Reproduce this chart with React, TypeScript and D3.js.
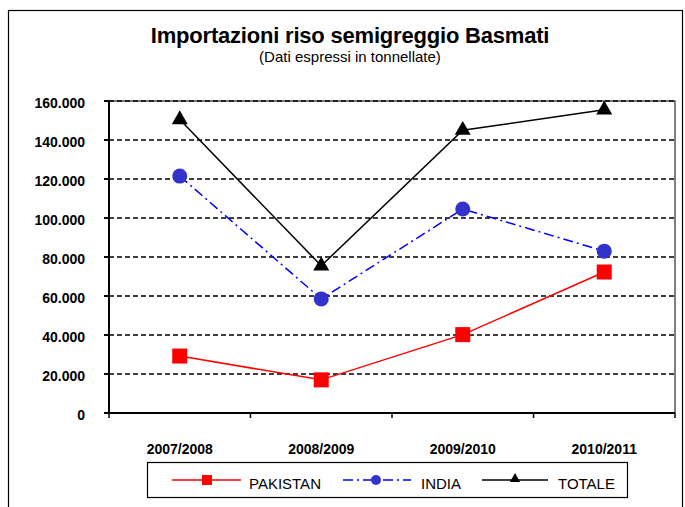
import React from "react";
import * as d3 from "d3";

const categories = ["2007/2008", "2008/2009", "2009/2010", "2010/2011"];
const pakistan = [29200, 17000, 40200, 72300];
const india = [121500, 58500, 104600, 83000];
const totale = [150500, 75500, 145000, 155500];
const yTicks = [0, 20000, 40000, 60000, 80000, 100000, 120000, 140000, 160000];

const W = 685;
const H = 507;
const plot = { left: 109, right: 675, top: 101, bottom: 413 };
const font = "Arial, 'Liberation Sans', Helvetica, sans-serif";

const x = d3
  .scaleBand<string>()
  .domain(categories)
  .range([plot.left, plot.right]);
const y = d3.scaleLinear().domain([0, 160000]).range([plot.bottom, plot.top]);

const fmt = (v: number) =>
  v === 0 ? "0" : d3.format(",.0f")(v).replace(/,/g, ".");

const cx = (c: string) => (x(c) || 0) + x.bandwidth() / 2;

const line = d3
  .line<[string, number]>()
  .x((d) => cx(d[0]))
  .y((d) => y(d[1]));

const zip = (vals: number[]) =>
  categories.map((c, i) => [c, vals[i]] as [string, number]);

const tri = d3.symbol(d3.symbolTriangle, 110)();

const Square = ({ px, py }: { px: number; py: number }) => (
  <rect x={px - 7.5} y={py - 7.5} width={15} height={15} fill="#ff0000" />
);
const Dot = ({ px, py }: { px: number; py: number }) => (
  <circle cx={px} cy={py} r={7.5} fill="#3333cc" />
);
const Tri = ({ px, py }: { px: number; py: number }) => (
  <path d={tri || ""} transform={`translate(${px},${py})`} fill="#000" />
);

export default function App() {
  return (
    <svg
      width={W}
      height={H}
      style={{ position: "absolute", left: 0, top: 0 }}
      fontFamily={font}
    >
      <rect x={0} y={0} width={W} height={H} fill="#fff" />
      <rect
        x={8.5}
        y={10.5}
        width={674}
        height={505}
        fill="none"
        stroke="#000"
        strokeWidth={1.2}
      />
      <text
        x={350}
        y={43}
        textAnchor="middle"
        fontSize={22}
        fontWeight="bold"
        letterSpacing={-0.2}
      >
        Importazioni riso semigreggio Basmati
      </text>
      <text x={350} y={62} textAnchor="middle" fontSize={15}>
        (Dati espressi in tonnellate)
      </text>

      {/* plot frame */}
      <rect
        x={plot.left}
        y={plot.top}
        width={plot.right - plot.left}
        height={plot.bottom - plot.top}
        fill="none"
        stroke="#000"
        strokeWidth={1}
      />
      {yTicks
        .filter((t) => t > 0)
        .map((t) => (
          <line
            key={t}
            x1={plot.left}
            x2={plot.right}
            y1={y(t)}
            y2={y(t)}
            stroke="#000"
            strokeWidth={1.5}
            strokeDasharray="5,3"
          />
        ))}
      {yTicks.map((t) => (
        <g key={"l" + t}>
          <line
            x1={plot.left - 5}
            x2={plot.left}
            y1={y(t)}
            y2={y(t)}
            stroke="#000"
            strokeWidth={2}
          />
          <text
            x={85}
            y={y(t) + 6.5}
            textAnchor="end"
            fontSize={14}
            fontWeight="bold"
          >
            {fmt(t)}
          </text>
        </g>
      ))}
      <line
        x1={plot.left}
        x2={plot.left}
        y1={plot.top}
        y2={plot.bottom}
        stroke="#000"
        strokeWidth={2}
      />
      <line
        x1={plot.left}
        x2={plot.right}
        y1={plot.bottom}
        y2={plot.bottom}
        stroke="#000"
        strokeWidth={2}
      />
      {categories.map((c) => (
        <line
          key={"t" + c}
          x1={x(c) || 0}
          x2={x(c) || 0}
          y1={plot.bottom}
          y2={plot.bottom + 5}
          stroke="#000"
          strokeWidth={1.5}
        />
      ))}
      <line
        x1={plot.right}
        x2={plot.right}
        y1={plot.bottom}
        y2={plot.bottom + 5}
        stroke="#000"
        strokeWidth={1.5}
      />
      {categories.map((c) => (
        <text
          key={"x" + c}
          x={cx(c)}
          y={454}
          textAnchor="middle"
          fontSize={14}
          fontWeight="bold"
        >
          {c}
        </text>
      ))}

      {/* series */}
      <path
        d={line(zip(pakistan)) || ""}
        fill="none"
        stroke="#ff0000"
        strokeWidth={1.5}
      />
      <path
        d={line(zip(india)) || ""}
        fill="none"
        stroke="#0000ff"
        strokeWidth={1.5}
        strokeDasharray="10,4,2,4"
      />
      <path
        d={line(zip(totale)) || ""}
        fill="none"
        stroke="#000"
        strokeWidth={1.5}
      />
      {zip(pakistan).map((d) => (
        <Square key={"p" + d[0]} px={cx(d[0])} py={y(d[1])} />
      ))}
      {zip(india).map((d) => (
        <Dot key={"i" + d[0]} px={cx(d[0])} py={y(d[1])} />
      ))}
      {zip(totale).map((d) => (
        <Tri key={"t2" + d[0]} px={cx(d[0])} py={y(d[1])} />
      ))}

      {/* legend */}
      <rect
        x={147.5}
        y={462.5}
        width={480}
        height={35}
        fill="#fff"
        stroke="#000"
        strokeWidth={1.2}
      />
      <line x1={172} x2={241} y1={480} y2={480} stroke="#ff0000" strokeWidth={1.5} />
      <rect x={202} y={475} width={10} height={10} fill="#ff0000" />
      <text x={249} y={489} fontSize={15}>PAKISTAN</text>
      <line
        x1={343}
        x2={411}
        y1={480}
        y2={480}
        stroke="#0000ff"
        strokeWidth={1.5}
        strokeDasharray="10,4,2,4"
      />
      <circle cx={376} cy={480} r={5} fill="#3333cc" />
      <text x={421} y={489} fontSize={15}>INDIA</text>
      <line x1={482} x2={548} y1={480} y2={480} stroke="#000" strokeWidth={1.5} />
      <path d={d3.symbol(d3.symbolTriangle, 45)() || ""} transform="translate(515,479)" />
      <text x={558} y={489} fontSize={15}>TOTALE</text>
    </svg>
  );
}
